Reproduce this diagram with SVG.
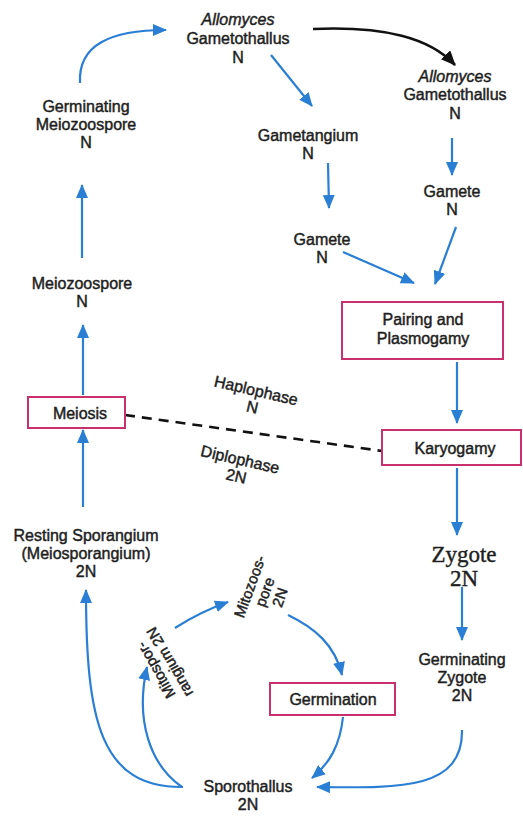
<svg xmlns="http://www.w3.org/2000/svg" width="523" height="817" viewBox="0 0 523 817">
<defs>
<style>
text{font-family:"Liberation Sans",Arial,sans-serif;font-size:16px;fill:#1e1e1e;stroke:#1e1e1e;stroke-width:0.45;text-anchor:middle}
.it{font-style:italic}
.serif{font-family:"Liberation Serif","Times New Roman",serif;font-size:23px;stroke-width:0.4}
.box{fill:#fff;stroke:#c8306e;stroke-width:2}
.arr{fill:none;stroke:#2a7fd4;stroke-width:2.2;marker-end:url(#ab)}
.blk{fill:none;stroke:#111;stroke-width:2.6;marker-end:url(#ak)}
.dash{fill:none;stroke:#111;stroke-width:2.6;stroke-dasharray:10 7}
</style>
<marker id="ab" viewBox="0 0 14 12" refX="13" refY="6" markerWidth="14" markerHeight="12" markerUnits="userSpaceOnUse" orient="auto"><path d="M0,0 L14,6 L0,12 Z" fill="#2a7fd4"/></marker>
<marker id="ak" viewBox="0 0 14 12" refX="13" refY="6" markerWidth="15" markerHeight="13" markerUnits="userSpaceOnUse" orient="auto"><path d="M0,0 L14,6 L0,12 Z" fill="#111"/></marker>
</defs>
<rect width="523" height="817" fill="#fff"/>

<g id="connectors">
<path class="arr" d="M80,83 C78,45 110,30 166,30"/>
<path class="blk" d="M313,29 C385,26 430,38 455,65"/>
<path class="arr" d="M271,55 L312,106"/>
<path class="arr" d="M328,163 L329,208"/>
<path class="arr" d="M452,138 L452,175"/>
<path class="arr" d="M456,227 L435,284"/>
<path class="arr" d="M343,252 L414,283"/>
<path class="arr" d="M457,362 L457,423"/>
<path class="arr" d="M457,468 L457,535"/>
<path class="arr" d="M462,587 L462,640"/>
<path class="arr" d="M83,395 L83,325"/>
<path class="arr" d="M82,258 L82,185"/>
<path class="arr" d="M83,507 L83,430"/>
<path class="dash" d="M125,415 L382,451"/>
<path class="arr" d="M462,730 C463,790 400,788 317,787"/>
<path class="arr" d="M343,717 C340,745 330,763 312,778"/>
<path class="arr" d="M288,615 C315,628 335,645 342,675"/>
<path class="arr" d="M175,628 C192,617 208,609 228,602"/>
<path class="arr" d="M182,787 C150,765 135,720 147,667"/>
<path class="arr" d="M183,787 C100,788 86,720 86,590"/>
</g>

<g id="gametothallus1"><text class="it" x="238" y="25">Allomyces</text><text x="238" y="44">Gametothallus</text><text x="238" y="63">N</text></g>
<g id="gametothallus2"><text class="it" x="455" y="82">Allomyces</text><text x="455" y="100">Gametothallus</text><text x="455" y="119">N</text></g>
<g id="germ-meiozoospore"><text x="86" y="112">Germinating</text><text x="86" y="130">Meiozoospore</text><text x="86" y="148">N</text></g>
<g id="gametangium"><text x="308" y="141">Gametangium</text><text x="308" y="159">N</text></g>
<g id="gamete-right"><text x="452" y="197">Gamete</text><text x="452" y="215">N</text></g>
<g id="gamete-mid"><text x="322" y="245">Gamete</text><text x="322" y="263">N</text></g>
<g id="meiozoospore"><text x="82" y="289">Meiozoospore</text><text x="82" y="307">N</text></g>
<g id="pairing"><rect class="box" x="342" y="302" width="161" height="57"/><text x="423" y="325">Pairing and</text><text x="423" y="344">Plasmogamy</text></g>
<g id="meiosis"><rect class="box" x="28" y="397" width="97" height="31"/><text x="80" y="419">Meiosis</text></g>
<g id="karyogamy"><rect class="box" x="382" y="430" width="139" height="35"/><text x="455" y="454">Karyogamy</text></g>
<g id="phase-labels">
<g transform="translate(256,391) rotate(13)"><text y="5">Haplophase</text><text x="0" y="22">N</text></g>
<g transform="translate(240,460) rotate(13)"><text y="5">Diplophase</text><text x="0" y="22">2N</text></g>
</g>
<g id="resting-sporangium"><text x="86" y="541">Resting Sporangium</text><text x="86" y="559">(Meiosporangium)</text><text x="86" y="577">2N</text></g>
<g id="zygote"><text class="serif" x="464" y="562">Zygote</text><text class="serif" x="464" y="586">2N</text></g>
<g id="germ-zygote"><text x="462" y="665">Germinating</text><text x="462" y="683">Zygote</text><text x="462" y="701">2N</text></g>
<g id="mitozoospore" transform="translate(265,592) rotate(-70)"><text style="font-size:15px" y="-11">Mitozoos-</text><text style="font-size:15px" y="5">pore</text><text style="font-size:15px" y="21">2N</text></g>
<g id="mitosporangium" transform="translate(163,666) rotate(-120)"><text style="font-size:15px" y="-3">Mitospor-</text><text style="font-size:15px" y="13">rangium 2N</text></g>
<g id="germination"><rect class="box" x="270" y="683" width="125" height="32"/><text x="333" y="705">Germination</text></g>
<g id="sporothallus"><text x="248" y="792">Sporothallus</text><text x="248" y="810">2N</text></g>
</svg>
